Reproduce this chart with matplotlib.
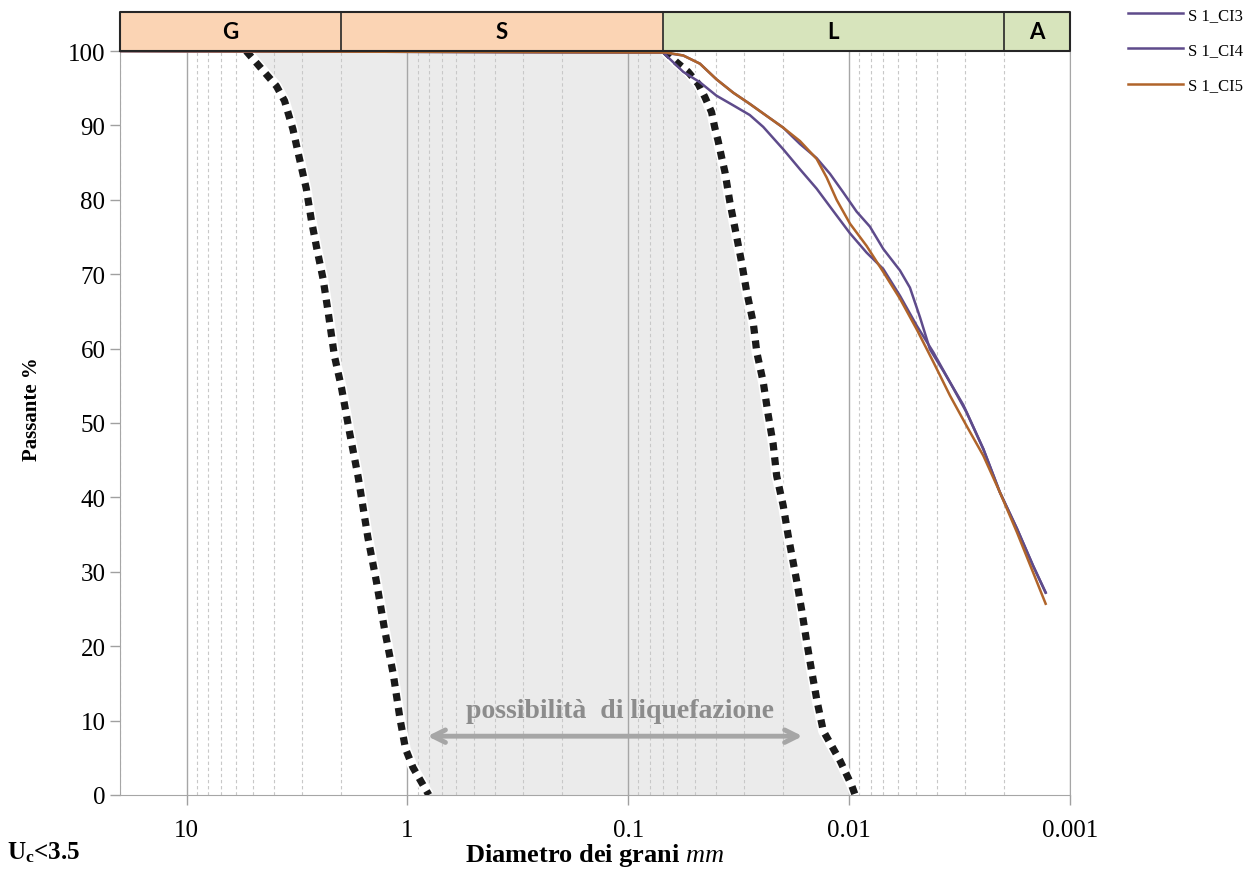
import numpy as np
import matplotlib
matplotlib.use("Agg")
from matplotlib import pyplot as plt
from matplotlib.ticker import FixedLocator, NullFormatter, FuncFormatter

plt.rcParams['font.family'] = ['Liberation Serif', 'DejaVu Serif']
plt.rcParams['mathtext.fontset'] = 'custom'
plt.rcParams['mathtext.rm'] = 'Liberation Serif'
plt.rcParams['mathtext.it'] = 'Liberation Serif:italic'
plt.rcParams['mathtext.bf'] = 'Liberation Serif:bold'

# grain size curves (diameter mm, passing %)
ci3_d = [20, 0.0696, 0.0564, 0.0474, 0.0399, 0.0335, 0.0282, 0.0237, 0.0199, 0.0167,
         0.01404, 0.01222, 0.01064, 0.00925, 0.00806, 0.00701, 0.00589, 0.00531, 0.00478,
         0.00431, 0.00375, 0.00304, 0.00247, 0.00208, 0.00174, 0.00147, 0.00129]
ci3_p = [100, 99.8, 99.4, 98.3, 96.2, 94.4, 92.9, 91.3, 89.7, 87.5,
         85.6, 83.5, 81.0, 78.4, 76.4, 73.4, 70.5, 68.2, 64.2,
         59.9, 57.0, 52.4, 46.5, 40.7, 35.8, 30.8, 27.2]

ci4_d = [20, 0.0696, 0.0564, 0.0474, 0.0399, 0.0335, 0.0282, 0.0245, 0.0199, 0.0167,
         0.01404, 0.01181, 0.00992, 0.00834, 0.00701, 0.00589, 0.00495, 0.00416, 0.00350,
         0.00294, 0.00247, 0.00208, 0.00174, 0.00147, 0.00129]
ci4_p = [100, 99.8, 97.2, 95.8, 94.0, 92.7, 91.4, 89.8, 86.8, 84.1,
         81.5, 78.5, 75.5, 72.9, 70.7, 67.1, 63.1, 59.5, 55.5,
         51.4, 46.5, 40.7, 35.8, 30.8, 27.2]

ci5_d = [20, 0.0672, 0.0564, 0.0474, 0.0399, 0.0335, 0.0282, 0.0237, 0.0199, 0.0167,
         0.01404, 0.01265, 0.01140, 0.00992, 0.00834, 0.00701, 0.00589, 0.00495, 0.00416,
         0.00350, 0.00294, 0.00247, 0.00208, 0.00174, 0.00147, 0.00129]
ci5_p = [100, 99.8, 99.4, 98.3, 96.2, 94.4, 92.9, 91.3, 89.7, 87.9,
         85.5, 83.0, 80.0, 76.8, 73.8, 70.3, 66.7, 62.6, 58.2,
         53.7, 49.6, 45.6, 40.7, 35.3, 29.9, 25.7]

# liquefaction limit curves (Uc<3.5)
coarse_d = [5.37, 3.92, 3.60, 3.30, 3.08, 2.87, 2.72, 2.57, 2.41, 2.29, 2.14, 1.99,
            1.83, 1.67, 1.51, 1.38, 1.27, 1.16, 1.08, 1.02, 0.944, 0.80]
coarse_p = [100, 95.3, 93.3, 89.5, 85.5, 81.5, 77.2, 73.4, 69.4, 65.1, 59.0, 54.8,
            48.8, 42.7, 34.6, 28.6, 22.3, 16.3, 10.2, 6.2, 3.7, 0]
fine_d = [0.0684, 0.0605, 0.0536, 0.0483, 0.0450, 0.0420, 0.0406, 0.0392, 0.0378,
          0.0365, 0.0347, 0.0326, 0.0307, 0.0291, 0.0272, 0.0262, 0.0245, 0.0233,
          0.0221, 0.0213, 0.0199, 0.0189, 0.0173, 0.0164, 0.0156, 0.0148, 0.0140,
          0.0131, 0.0120, 0.0110, 0.00975, 0.0094]
fine_p = [100, 98.5, 97.2, 95.6, 93.8, 91.8, 89.7, 87.9, 85.7,
          83.7, 79.7, 75.6, 71.6, 67.6, 63.5, 59.5, 55.5, 51.2,
          47.2, 42.9, 38.9, 34.9, 28.8, 24.8, 20.7, 16.7, 12.7,
          8.6, 6.6, 4.6, 1.3, 0]

band_labels = ['G', 'S', 'L', 'A']
band_edges = [20, 2, 0.07, 0.002, 0.001]
band_colors = ['#FBD4B4', '#FBD4B4', '#D7E4BC', '#D7E4BC']

x_ticks = [10, 1, 0.1, 0.01, 0.001]

fig = plt.figure(figsize=(12.44, 8.70), dpi=100)
ax = fig.add_axes([0.0965, 0.0851, 0.7637, 0.8551])
band = fig.add_axes([0.0965, 0.9402, 0.7637, 0.0448], sharex=ax)

ax.set_xscale('log')
ax.set_xlim(20, 0.001)
ax.set_ylim(0, 100)

# shaded zone between the two limit curves
poly_x = list(coarse_d) + list(fine_d[::-1])
poly_y = list(coarse_p) + list(fine_p[::-1])
ax.fill(poly_x, poly_y, color='#EBEBEB', lw=0, zorder=0)

ax.xaxis.set_major_locator(FixedLocator(x_ticks))
minors = [m * 10.0 ** e for e in range(-3, 2) for m in range(2, 10)]
ax.xaxis.set_minor_locator(FixedLocator(minors))
ax.xaxis.set_major_formatter(FuncFormatter(lambda v, p: '%g' % v))
ax.xaxis.set_minor_formatter(NullFormatter())
ax.grid(True, which='major', axis='x', color='#A6A6A6', lw=1.0, zorder=1)
ax.grid(True, which='minor', axis='x', color='#C8C8C8', lw=0.8, ls=(0, (3, 2.5)), zorder=1)
ax.set_axisbelow(True)
ax.set_yticks(np.arange(0, 101, 10))
ax.tick_params(axis='both', which='major', labelsize=18, color='#A0A0A0', length=7, width=1)
ax.tick_params(axis='x', which='minor', length=0)
ax.tick_params(axis='x', pad=10)
for s in ax.spines.values():
    s.set_color('#A6A6A6')
ax.spines['top'].set_visible(False)

# limit curves: white halo + black square dots
for d, p in [(coarse_d, coarse_p), (fine_d, fine_p)]:
    ax.plot(d, p, color='white', lw=7.5, zorder=3, solid_capstyle='butt')
    ax.plot(d, p, color='#1a1a1a', lw=5.2, ls=(0, (1.1, 0.95)), dash_capstyle='butt', zorder=4)

l3, = ax.plot(ci3_d, ci3_p, color='#5E4B8B', lw=1.8, zorder=5, label='S 1_CI3')
l4, = ax.plot(ci4_d, ci4_p, color='#5E4B8B', lw=1.8, zorder=5, label='S 1_CI4')
l5, = ax.plot(ci5_d, ci5_p, color='#B0642A', lw=1.8, zorder=6, label='S 1_CI5')

ax.annotate('', xy=(0.0158, 7.9), xytext=(0.835, 7.9),
            arrowprops=dict(arrowstyle='<->,head_length=0.9,head_width=0.45', color='#A6A6A6', lw=3.5),
            zorder=7)
ax.text(0.109, 11.3, 'possibilità  di liquefazione', fontsize=20, fontweight='bold',
        color='#8C8C8C', ha='center', va='center', zorder=7)

ax.set_ylabel('Passante %', fontsize=15, fontweight='bold')
ax.yaxis.set_label_coords(-0.082, 0.52)
ax.set_xlabel(r'Diametro dei grani $\mathit{mm}$', fontsize=19, fontweight='bold', labelpad=0)
fig.text(0.006, 0.006, r'$\mathbf{U_c}$<3.5', fontsize=18, fontweight='bold', ha='left', va='bottom')

# classification band on top
band.set_ylim(0, 1)
for lab, x0, x1, c in zip(band_labels, band_edges[:-1], band_edges[1:], band_colors):
    band.axvspan(x0, x1, color=c, zorder=0)
    band.axvline(x1, color='#262626', lw=1.2)
    band.text(np.sqrt(x0 * x1), 0.5, lab, fontsize=16, fontweight='bold',
              family=['Lato', 'DejaVu Sans'], ha='center', va='center')
band.axis('off')
band.plot([20, 0.001, 0.001, 20, 20], [0, 0, 1, 1, 0], color='#262626', lw=1.5, clip_on=False)

fig.legend(handles=[l3, l4, l5], loc='upper left', bbox_to_anchor=(0.895, 1.008), frameon=False,
           fontsize=12, handlelength=3.3, labelspacing=1.15, handletextpad=0.3)

fig.savefig('out.png', dpi=100)
